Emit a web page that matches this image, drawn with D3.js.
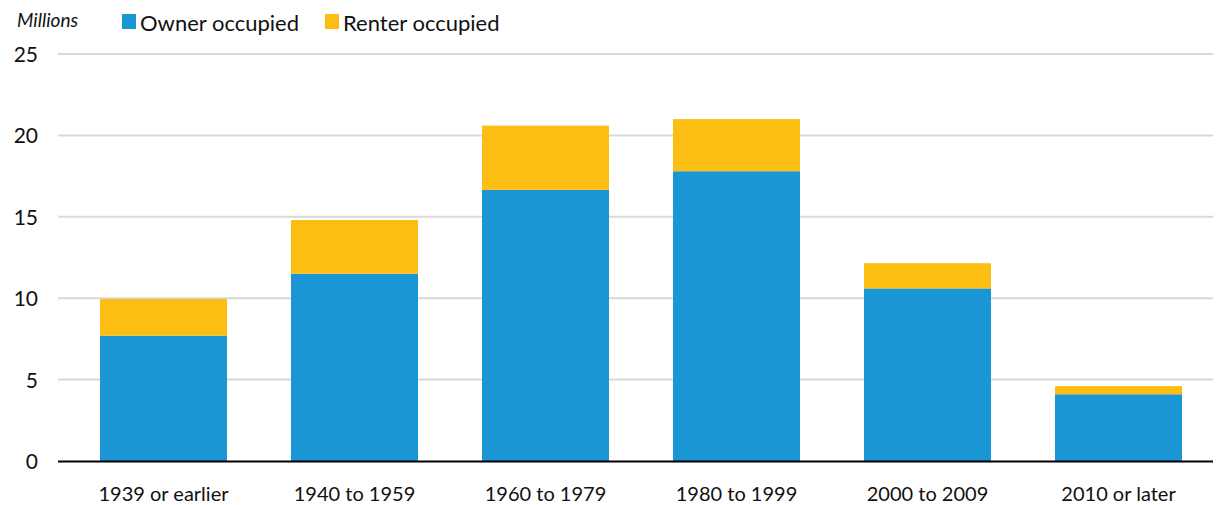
<!DOCTYPE html>
<html>
<head>
<meta charset="utf-8">
<script src="https://cdn.jsdelivr.net/npm/d3@7"></script>
<style>
  body { margin: 0; background: #fff; }
  text { font-family: Lato, sans-serif; fill: #111; }
</style>
</head>
<body>
<svg id="chart" width="1226" height="505"></svg>
<script>
const categories = ["1939 or earlier", "1940 to 1959", "1960 to 1979", "1980 to 1999", "2000 to 2009", "2010 or later"];
const owner = [7.7, 11.5, 16.65, 17.8, 10.6, 4.1];
const renter = [2.25, 3.3, 3.95, 3.2, 1.55, 0.5];
const yTicks = [0, 5, 10, 15, 20, 25];
const seriesNames = ["Owner occupied", "Renter occupied"];
const colors = ["#1996D3", "#FDBE14"];

const svg = d3.select("#chart");

const x = d3.scaleBand()
    .domain(categories)
    .range([68, 1214])
    .paddingInner(0.335)
    .paddingOuter(0.1675);

const y = d3.scaleLinear()
    .domain([0, 25])
    .range([461, 54]);

// gridlines
svg.append("g")
    .selectAll("line")
    .data(yTicks.filter(d => d > 0))
    .join("line")
    .attr("x1", 58)
    .attr("x2", 1213)
    .attr("y1", d => y(d))
    .attr("y2", d => y(d))
    .attr("stroke", "#d9d9d9")
    .attr("stroke-width", 2);

// y tick labels
svg.append("g")
    .selectAll("text")
    .data(yTicks)
    .join("text")
    .attr("x", 38)
    .attr("y", d => y(d) + 8)
    .attr("text-anchor", "end")
    .style("font-size", "21px")
    .text(d => d);

const rows = categories.map((c, i) => ({ cat: c, owner: owner[i], renter: renter[i] }));
const stack = d3.stack().keys(["owner", "renter"])(rows);

svg.append("g")
    .selectAll("g")
    .data(stack)
    .join("g")
    .attr("fill", (d, i) => colors[i])
    .selectAll("rect")
    .data(d => d)
    .join("rect")
    .attr("x", d => x(d.data.cat))
    .attr("width", x.bandwidth())
    .attr("y", d => y(d[1]))
    .attr("height", d => y(d[0]) - y(d[1]));

// baseline
svg.append("line")
    .attr("x1", 58)
    .attr("x2", 1213)
    .attr("y1", y(0) + 0.5)
    .attr("y2", y(0) + 0.5)
    .attr("stroke", "#000")
    .attr("stroke-width", 2);

// x labels
svg.append("g")
    .selectAll("text")
    .data(categories)
    .join("text")
    .attr("x", d => x(d) + x.bandwidth() / 2)
    .attr("y", 501)
    .attr("text-anchor", "middle")
    .style("font-size", "20px")
    .text(d => d);

// units label
svg.append("text")
    .attr("x", 17)
    .attr("y", 27)
    .style("font-size", "19px")
    .style("font-style", "italic")
    .text("Millions");

// legend
const legendX = [122, 325];
const legend = svg.append("g")
    .selectAll("g")
    .data(seriesNames)
    .join("g")
    .attr("transform", (d, i) => `translate(${legendX[i]},0)`);

legend.append("rect")
    .attr("y", 14)
    .attr("width", 14)
    .attr("height", 15)
    .attr("fill", (d, i) => colors[i]);

legend.append("text")
    .attr("x", 18)
    .attr("y", 31)
    .style("font-size", "22px")
    .text(d => d);
</script>
</body>
</html>
